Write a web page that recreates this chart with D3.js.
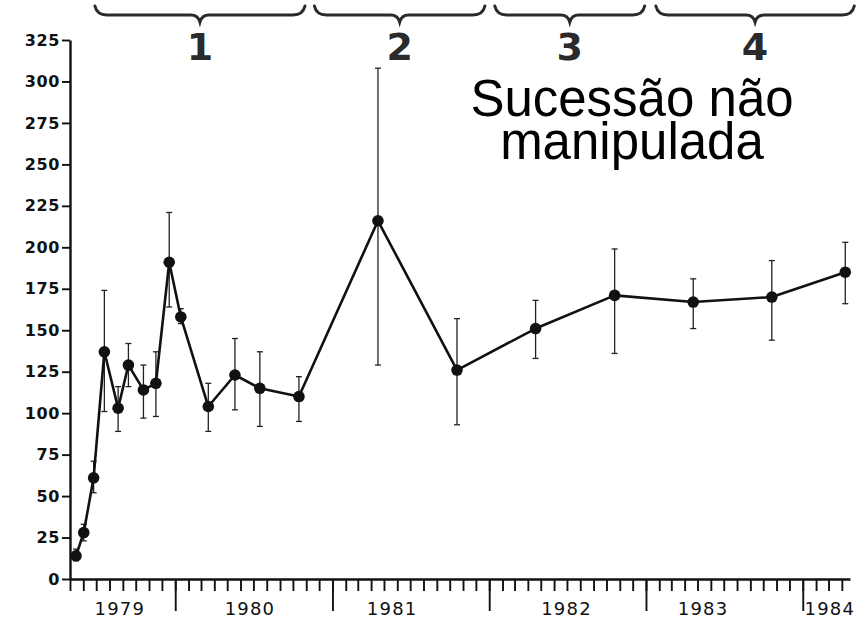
<!DOCTYPE html>
<html><head><meta charset="utf-8">
<script src="https://cdn.jsdelivr.net/npm/d3@7"></script>
<style>body{margin:0;background:#fff}svg{display:block}</style>
</head><body><svg id="c" width="864" height="620"></svg>
<script>
// ---- data ----
const sampleDates = ["1979-05-15","1979-06-02","1979-06-25","1979-07-20","1979-08-21","1979-09-14","1979-10-19","1979-11-17","1979-12-18","1980-01-14","1980-03-18","1980-05-19","1980-07-16","1980-10-15","1981-04-17","1981-10-18","1982-04-19","1982-10-20","1983-04-21","1983-10-21","1984-04-09"];
const values  = [14, 28, 61, 137, 103, 129, 114, 118, 191, 158, 104, 123, 115, 110, 216, 126, 151, 171, 167, 170, 185];
const errLow  = [11, 23, 52, 101, 89, 116, 97, 98, 164, 154, 89, 102, 92, 95, 129, 93, 133, 136, 151, 144, 166];
const errHigh = [18, 33, 71, 174, 116, 142, 129, 137, 221, 163, 118, 145, 137, 122, 308, 157, 168, 199, 181, 192, 203];
const yTicks = [0,25,50,75,100,125,150,175,200,225,250,275,300,325];
const yearLabels = ["1979","1980","1981","1982","1983","1984"];
const yearLabelDates = ["1979-08-25","1980-06-23","1981-05-20","1982-06-30","1983-05-14","1984-03-04"];
const phaseLabels = ["1","2","3","4"];
const phaseStarts = ["1979-06-28","1980-11-20","1982-01-14","1983-01-24"];
const phaseEnds   = ["1980-10-29","1981-12-22","1982-12-29","1984-04-30"];
const annotationLines = ["Sucessão não","manipulada"];
const xDomain = ["1979-05-01","1984-04-20"];

// ---- chart ----
const parse = d3.utcParse("%Y-%m-%d");
const svg = d3.select("#c");
const x = d3.scaleUtc().domain(xDomain.map(parse)).range([70, 850]);
const y = d3.scaleLinear().domain([0, 325]).range([579, 40]);
const ink = "#111";

const pts = sampleDates.map((d,i)=>({date:parse(d), v:values[i], lo:errLow[i], hi:errHigh[i]}));

// x axis: monthly minor ticks and yearly major ticks
const gx = svg.append("g").attr("transform", `translate(0,${y(0)})`);
gx.call(d3.axisBottom(x).ticks(d3.utcMonth.every(1)).tickSize(12).tickSizeOuter(0).tickFormat(""));
gx.append("g").call(d3.axisBottom(x).ticks(d3.utcYear.every(1)).tickSize(32).tickSizeOuter(0).tickFormat(""))
  .select(".domain").remove();
gx.selectAll("path,line").attr("stroke", ink);
gx.select(".domain").attr("stroke-width", 2.4);
gx.selectAll(".tick line").attr("stroke-width", 1.9);

svg.append("g").selectAll("text").data(yearLabels).join("text")
  .attr("x", (d,i)=>x(parse(yearLabelDates[i])))
  .attr("y", 615)
  .attr("text-anchor","middle")
  .attr("font-family","DejaVu Sans")
  .attr("font-size",18)
  .attr("letter-spacing",1.2)
  .attr("fill",ink)
  .text(d=>d);

// y axis
const gy = svg.append("g").attr("transform","translate(70,0)");
gy.call(d3.axisLeft(y).tickValues(yTicks).tickSize(8).tickSizeOuter(0).tickPadding(2));
gy.selectAll("path,line").attr("stroke", ink);
gy.select(".domain").attr("stroke-width", 2.4);
gy.selectAll(".tick line").attr("stroke-width", 1.9);
gy.selectAll(".tick text")
  .attr("font-family","DejaVu Sans")
  .attr("font-weight","bold")
  .attr("font-size",16)
  .attr("letter-spacing",0.6)
  .attr("fill",ink);

// error bars
const eb = svg.append("g").attr("stroke","#222").attr("stroke-width",1.3);
pts.forEach(p=>{
  const cx = x(p.date);
  eb.append("line").attr("x1",cx).attr("x2",cx).attr("y1",y(p.lo)).attr("y2",y(p.hi));
  eb.append("line").attr("x1",cx-3).attr("x2",cx+3).attr("y1",y(p.lo)).attr("y2",y(p.lo));
  eb.append("line").attr("x1",cx-3).attr("x2",cx+3).attr("y1",y(p.hi)).attr("y2",y(p.hi));
});

// line + markers
svg.append("path").datum(pts)
  .attr("fill","none").attr("stroke",ink).attr("stroke-width",2.6).attr("stroke-linejoin","round")
  .attr("d", d3.line().x(d=>x(d.date)).y(d=>y(d.v)));
svg.append("g").selectAll("circle").data(pts).join("circle")
  .attr("cx",d=>x(d.date)).attr("cy",d=>y(d.v)).attr("r",5.8).attr("fill",ink);

// phase braces
const braces = svg.append("g");
phaseLabels.forEach((lab,i)=>{
  const x0 = x(parse(phaseStarts[i])), x1 = x(parse(phaseEnds[i]));
  const xm = (x0+x1)/2, yTop = 6, yFlat = 15, yTip = 22;
  const p = d3.path();
  p.moveTo(x0, yTop);
  p.quadraticCurveTo(x0+2, yFlat, x0+12, yFlat);
  p.lineTo(xm-9, yFlat);
  p.quadraticCurveTo(xm-2, yFlat, xm, yTip);
  p.quadraticCurveTo(xm+2, yFlat, xm+9, yFlat);
  p.lineTo(x1-12, yFlat);
  p.quadraticCurveTo(x1-2, yFlat, x1, yTop);
  braces.append("path").attr("d", p.toString()).attr("fill","none")
    .attr("stroke","#2a2a2a").attr("stroke-width",3).attr("stroke-linecap","round");
  braces.append("text").attr("x", xm).attr("y", 60).attr("text-anchor","middle")
    .attr("font-family","DejaVu Sans").attr("font-weight","bold").attr("font-size",38)
    .attr("fill","#2a2a2a").text(lab);
});

// annotation (one text element, two lines)
svg.append("rect").attr("x",452).attr("y",63).attr("width",362).attr("height",110).attr("fill","#fff");
const ann = svg.append("text")
  .attr("text-anchor","middle")
  .attr("font-family","Liberation Sans, Arial, sans-serif")
  .attr("font-size",51)
  .attr("fill","#000");
ann.selectAll("tspan").data(annotationLines).join("tspan")
  .attr("x",632).attr("y",(d,i)=>116+i*43)
  .text(d=>d);
</script>
</body></html>
